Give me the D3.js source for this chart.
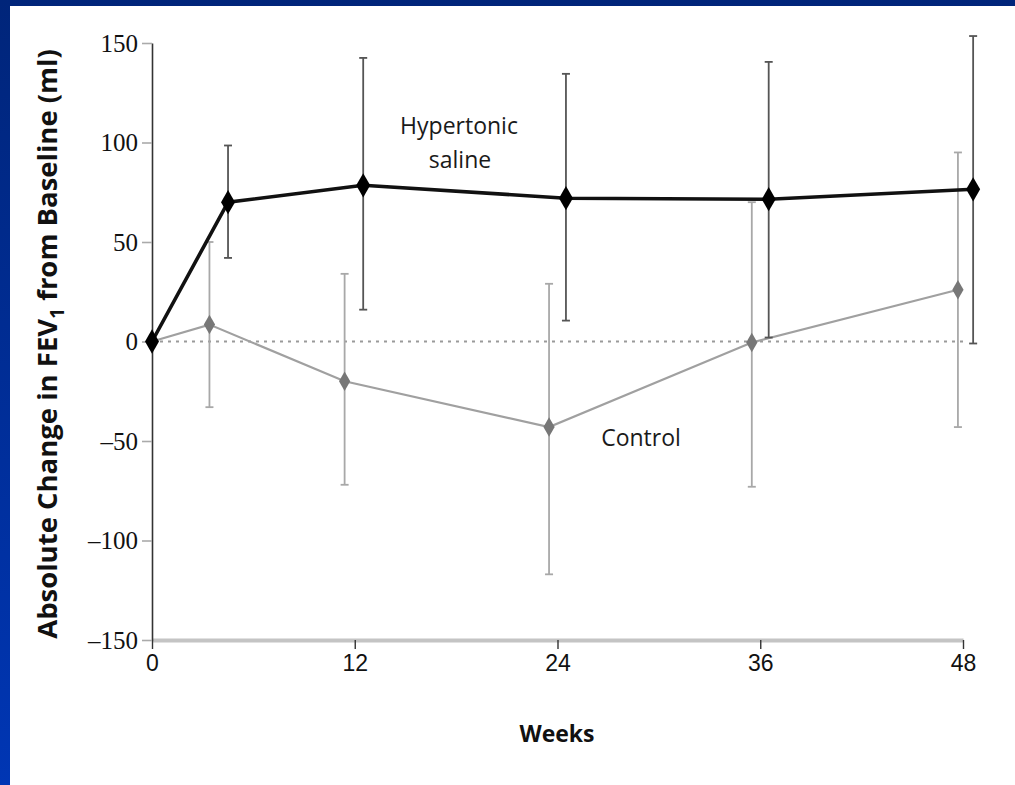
<!DOCTYPE html>
<html>
<head>
<meta charset="utf-8">
<style>
  body { margin:0; padding:0; background:#fff; }
  svg { display:block; }
  .lbl { font-family:"Open Sans","DejaVu Sans",sans-serif; font-size:23px; fill:#1a1a1a; }
  .ttl { font-family:"Open Sans","DejaVu Sans",sans-serif; font-weight:bold; fill:#111; }
</style>
<script src="https://cdn.jsdelivr.net/npm/d3@7"></script>
</head>
<body>
<script>
// values
var xTicks = [0, 12, 24, 36, 48];
var yTicks = [150, 100, 50, 0, -50, -100, -150];

var hyperWeeks = [0, 4.5, 12.5, 24.5, 36.5, 48.6];
var hyperMean  = [0, 70, 78.5, 72, 71.5, 76.5];
var hyperLow   = [0, 42, 16, 10.5, 2, -1];
var hyperHigh  = [0, 98.5, 142.5, 134.5, 140.5, 153.5];

var ctrlWeeks = [0, 3.4, 11.4, 23.5, 35.5, 47.7];
var ctrlMean  = [0, 8.5, -20, -43, -0.5, 26];
var ctrlLow   = [0, -33, -72, -117, -73, -43];
var ctrlHigh  = [0, 50, 34, 29, 70, 95];

var W = 1015, H = 785;
var svg = d3.select("body").append("svg").attr("width", W).attr("height", H);

// slide frame
var grad = svg.append("defs").append("linearGradient")
    .attr("id", "blue").attr("x1", 0).attr("y1", 0).attr("x2", 0).attr("y2", 1);
grad.append("stop").attr("offset", "0%").attr("stop-color", "#00257a");
grad.append("stop").attr("offset", "100%").attr("stop-color", "#0036b4");
svg.append("rect").attr("width", W).attr("height", H).attr("fill", "url(#blue)");
svg.append("rect").attr("x", 10).attr("y", 6).attr("width", W - 10).attr("height", H - 6).attr("fill", "#fff");

var x = d3.scaleLinear().domain([0, 48]).range([152, 963]);
var y = d3.scaleLinear().domain([-150, 150]).range([640, 43]);

// zero reference line
svg.append("line")
    .attr("x1", x(0)).attr("x2", x(48))
    .attr("y1", y(0)).attr("y2", y(0))
    .attr("stroke", "#9a9a9a").attr("stroke-width", 2.2)
    .attr("stroke-dasharray", "3,5");

// x axis
var gx = svg.append("g")
    .attr("transform", "translate(0," + y(-150) + ")")
    .call(d3.axisBottom(x).tickValues(xTicks).tickSize(9).tickSizeOuter(0).tickPadding(6));
gx.select(".domain").attr("stroke", "#c4c4c4").attr("stroke-width", 4);
gx.selectAll(".tick line").attr("stroke", "#333").attr("stroke-width", 1.4);
gx.selectAll(".tick text")
    .style("font-family", "'Liberation Sans Narrow','Liberation Sans',sans-serif")
    .style("font-size", "23px").attr("fill", "#111");

// y axis
var gy = svg.append("g")
    .attr("transform", "translate(" + x(0) + ",0)")
    .call(d3.axisLeft(y).tickValues(yTicks).tickSize(10).tickSizeOuter(0).tickPadding(4)
      .tickFormat(function(d){ return d < 0 ? "\u2013" + Math.abs(d) : d; }));
gy.select(".domain").attr("stroke", "#333").attr("stroke-width", 1.6);
gy.selectAll(".tick line").attr("stroke", "#aaa").attr("stroke-width", 1.6);
gy.selectAll(".tick text")
    .style("font-family", "'Liberation Serif',serif")
    .style("font-size", "25px").attr("fill", "#111");

function series(weeks, mean, low, high, opt) {
  var pts = weeks.map(function(w, i){ return {w:w, m:mean[i], lo:low[i], hi:high[i]}; });
  var g = svg.append("g");
  var bars = pts.filter(function(d){ return d.w > 0; });
  g.selectAll("line.eb").data(bars).enter().append("line")
      .attr("x1", function(d){ return x(d.w); }).attr("x2", function(d){ return x(d.w); })
      .attr("y1", function(d){ return y(d.lo); }).attr("y2", function(d){ return y(d.hi); })
      .attr("stroke", opt.bar).attr("stroke-width", 1.8);
  [ "lo", "hi" ].forEach(function(k){
    g.selectAll("line.cap" + k).data(bars).enter().append("line")
        .attr("x1", function(d){ return x(d.w) - 4; }).attr("x2", function(d){ return x(d.w) + 4; })
        .attr("y1", function(d){ return y(d[k]); }).attr("y2", function(d){ return y(d[k]); })
        .attr("stroke", opt.bar).attr("stroke-width", 1.8);
  });
  g.append("path").datum(pts)
      .attr("d", d3.line().x(function(d){ return x(d.w); }).y(function(d){ return y(d.m); }))
      .attr("fill", "none").attr("stroke", opt.line).attr("stroke-width", opt.lw);
  g.selectAll("path.pt").data(pts).enter().append("path")
      .attr("transform", function(d){ return "translate(" + x(d.w) + "," + y(d.m) + ")"; })
      .attr("d", d3.symbol().type(d3.symbolDiamond).size(opt.size))
      .attr("fill", opt.pt);
}

series(ctrlWeeks, ctrlMean, ctrlLow, ctrlHigh,
  {bar:"#a8a8a8", line:"#a0a0a0", lw:2.2, pt:"#777", size:110});
series(hyperWeeks, hyperMean, hyperLow, hyperHigh,
  {bar:"#555", line:"#111", lw:3.6, pt:"#000", size:170});

// labels
svg.append("text").attr("class", "lbl").attr("x", 459).attr("y", 134)
    .attr("text-anchor", "middle").text("Hypertonic");
svg.append("text").attr("class", "lbl").attr("x", 460).attr("y", 168)
    .attr("text-anchor", "middle").text("saline");
svg.append("text").attr("class", "lbl").attr("x", 641).attr("y", 446)
    .attr("text-anchor", "middle").text("Control");

svg.append("text").attr("class", "ttl").attr("x", 557).attr("y", 742)
    .attr("text-anchor", "middle").style("font-size", "23px").text("Weeks");

var yt = svg.append("text").attr("class", "ttl")
    .attr("transform", "translate(57,344) rotate(-90)")
    .attr("text-anchor", "middle").style("font-size", "27.5px");
yt.append("tspan").text("Absolute Change in FEV");
yt.append("tspan").attr("dy", 7).style("font-size", "19px").text("1");
yt.append("tspan").attr("dy", -7).text(" from Baseline (ml)");
</script>
</body>
</html>
